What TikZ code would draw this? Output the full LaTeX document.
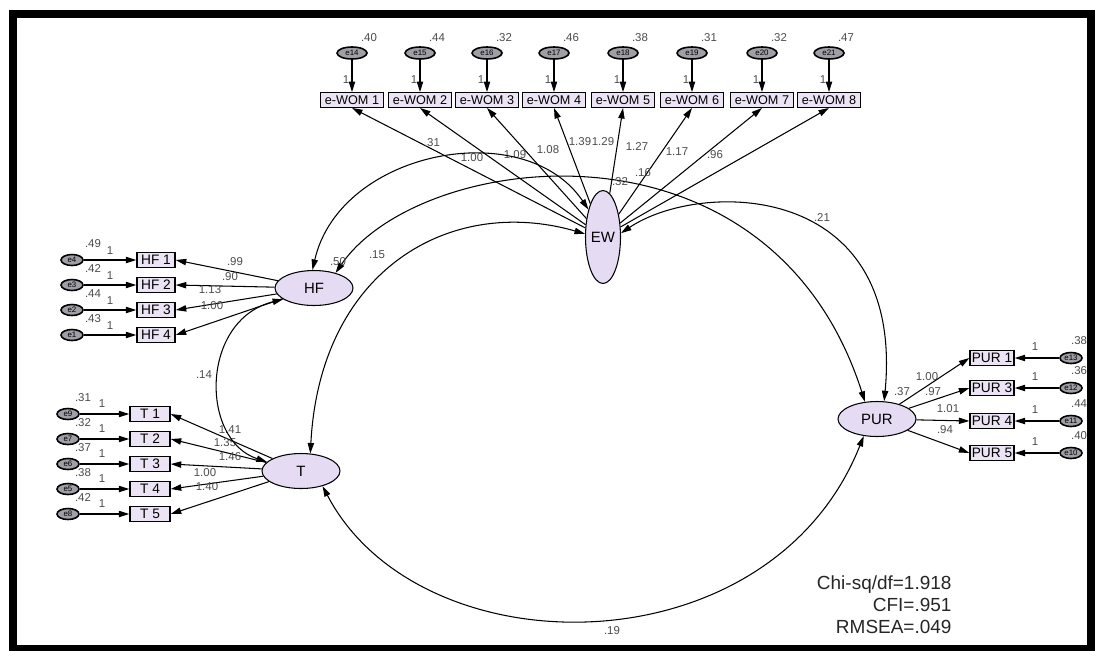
\documentclass[tikz,border=0pt]{standalone}
\usepackage{fontspec}
\setmainfont{Liberation Sans}
\usetikzlibrary{arrows.meta, shapes.geometric}
\definecolor{latfill}{RGB}{229,219,243}
\definecolor{obsfill}{RGB}{236,228,245}
\definecolor{errfill}{RGB}{160,158,166}
\definecolor{numgray}{RGB}{75,75,75}

\begin{document}
\begin{tikzpicture}[x=0.02cm, y=-0.02cm, line width=0.6pt,
	>={Triangle[length=6pt, width=3.6pt]}]
\tikzstyle{lat}=[ellipse, draw, fill=latfill, inner sep=0pt, minimum width=1.56cm, minimum height=0.7cm, font=\fontsize{8.5}{9}\selectfont]
\tikzstyle{obs}=[rectangle, draw, line width=0.8pt, fill=obsfill, inner sep=1pt, minimum height=0.29cm, font=\fontsize{7.8}{8}\selectfont]
\tikzstyle{err}=[ellipse, draw, line width=0.9pt, fill=errfill, inner sep=0pt, minimum width=0.44cm, minimum height=0.22cm, font=\fontsize{4.5}{5}\selectfont]
\tikzstyle{lbl}=[inner sep=0pt, text=numgray, font=\fontsize{6.5}{7}\selectfont]

\useasboundingbox (0,0) rectangle (1095,650);
\draw[line width=4.6pt] (13,14) rectangle (1091,649);

\node[lat, minimum width=0.7cm, minimum height=1.86cm] (ew) at (603,237) {EW};
\node[lat] (hf) at (314,288) {HF};
\node[lat] (t) at (301,471) {T};
\node[lat] (pur) at (877,419) {PUR};

\foreach \i/\x/\e/\v/\w/\lx/\ly in {1/352/14/.40/1.00/472/158, 2/420/15/.44/1.09/515/155, 3/487/16/.32/1.08/548/150, 4/554/17/.46/1.39/580/142, 5/623/18/.38/1.29/603/142, 6/692/19/.31/1.27/637/147, 7/762/20/.32/1.17/677/152, 8/829/21/.47/.96/715/155}
{
	\node[obs, minimum width=1.26cm, font=\fontsize{7.2}{8}\selectfont] (w\i) at (\x,100) {e-WOM \i};
	\node[err, minimum width=0.6cm, minimum height=0.24cm] (e\e) at (\x,53) {e\e};
	\node[lbl] at (\x+17,38) {\v};
	\node[lbl] at (\x-6,80) {1};
	\node[lbl] at (\lx,\ly) {\w};
	\path[->]
	(e\e)	edge	(w\i)
	(ew)	edge	(w\i.south);
}

\foreach \i/\y/\e/\v/\w/\lx/\ly in {1/260/4/.49/.99/235/262, 2/285/3/.42/.90/230/277, 3/310/2/.44/1.13/210/290, 4/335/1/.43/1.00/212/306}
{
	\node[obs, minimum width=0.76cm] (h\i) at (156,\y) {HF \i};
	\node[err] (e\e) at (72,\y) {e\e};
	\node[lbl] at (93,\y-16) {\v};
	\node[lbl] at (110,\y-9) {1};
	\node[lbl] at (\lx,\ly) {\w};
	\path[->]
	(e\e)	edge	(h\i)
	(hf)	edge	(h\i.east);
}

\foreach \i/\y/\e/\v/\w/\lx/\ly in {1/414/9/.31/1.41/230/430, 2/439/7/.32/1.35/225/443, 3/464/6/.37/1.46/230/457, 4/489/5/.38/1.00/205/473, 5/514/8/.42/1.40/207/487}
{
	\node[obs, minimum width=0.8cm] (t\i) at (150,\y) {T \i};
	\node[err] (e\e) at (68,\y) {e\e};
	\node[lbl] at (83,\y-16) {\v};
	\node[lbl] at (102,\y-10) {1};
	\node[lbl] at (\lx,\ly) {\w};
	\path[->]
	(e\e)	edge	(t\i)
	(t)		edge	(t\i.east);
}

\foreach \i/\n/\y/\e/\v/\w/\lx/\ly in {1/1/358/13/.38/1.00/927/377, 2/3/388/12/.36/.97/933/392, 3/4/421/11/.44/1.01/948/409, 4/5/453/10/.40/.94/945/430}
{
	\node[obs, minimum width=0.86cm] (p\i) at (992,\y) {PUR \n};
	\node[err] (e\e) at (1071,\y) {e\e};
	\node[lbl] at (1079,\y-17) {\v};
	\node[lbl] at (1035,\y-11) {1};
	\node[lbl] at (\lx,\ly) {\w};
	\path[->]
	(e\e)	edge	(p\i)
	(pur)	edge	(p\i.west);
}

\draw[<->] (hf.95) .. controls (340,150) and (525,115) .. (ew.118);
\draw[<->] (hf.35) .. controls (420,150) and (770,105) .. (pur.125);
\draw[<->] (ew.170) .. controls (450,195) and (320,270) .. (t.62);
\draw[<->] (ew.12) .. controls (700,180) and (905,180) .. (pur.68);
\draw[<->] (hf.200) .. controls (200,320) and (200,440) .. (t.165);
\draw[<->] (t.-35) .. controls (420,672) and (770,672) .. (pur.232);

\node[lbl] at (338,262) {.50};
\node[lbl] at (620,182) {.32};
\node[lbl] at (902,392) {.37};
\node[lbl] at (432,143) {.31};
\node[lbl] at (643,173) {.16};
\node[lbl] at (377,255) {.15};
\node[lbl] at (822,218) {.21};
\node[lbl] at (204,375) {.14};
\node[lbl] at (612,631) {.19};

\node[anchor=east, align=right, inner sep=0pt, text=black!85, font=\fontsize{10.8}{12.6}\selectfont] (fit) at (952,605) {Chi-sq/df=1.918\\CFI=.951\\RMSEA=.049};
\end{tikzpicture}
\end{document}
